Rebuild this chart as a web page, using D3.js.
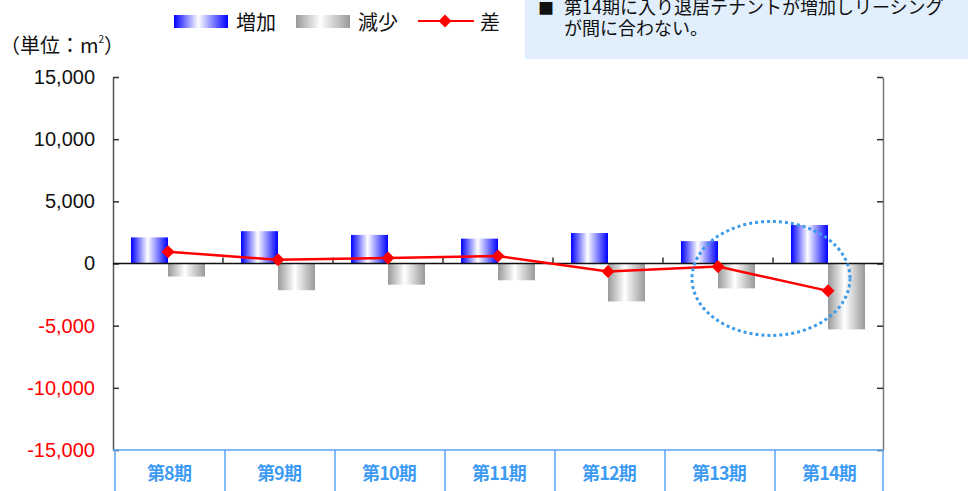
<!DOCTYPE html>
<html>
<head>
<meta charset="utf-8">
<script src="https://cdn.jsdelivr.net/npm/d3@7"></script>
<style>
  html, body { margin: 0; padding: 0; background: #fff; }
  svg { display: block; }
  text { font-family: "Noto Sans CJK JP", "Noto Sans", sans-serif; }
</style>
</head>
<body>
<svg id="chart" width="968" height="491"></svg>
<script>
// Floor-area movement per period (m²)
const categories = ["第8期", "第9期", "第10期", "第11期", "第12期", "第13期", "第14期"];
const increase   = [2100, 2600, 2300, 2000, 2450, 1800, 3100];
const decrease   = [-1050, -2150, -1700, -1350, -3050, -2000, -5300];
const difference = [950, 300, 450, 600, -650, -250, -2200];
const yTicks     = [15000, 10000, 5000, 0, -5000, -10000, -15000];
const noteLines  = ["第14期に入り退居テナントが増加しリーシング", "が間に合わない。"];

const svg = d3.select("#chart");
const plotLeft = 113, plotRight = 883, plotTop = 77, plotBottom = 450;

const x = d3.scaleBand().domain(categories).range([plotLeft, plotRight]);
const xSub = d3.scaleBand().domain(["inc", "dec"])
  .range([x.bandwidth() / 2 - 37, x.bandwidth() / 2 + 37]);
const y = d3.scaleLinear().domain([-15000, 15000]).range([plotBottom, plotTop]);

// Bar gradients
const defs = svg.append("defs");
function hGrad(id, edge) {
  const g = defs.append("linearGradient").attr("id", id)
    .attr("x1", "0%").attr("x2", "100%").attr("y1", "0%").attr("y2", "0%");
  g.append("stop").attr("offset", "0%").attr("stop-color", edge);
  g.append("stop").attr("offset", "45%").attr("stop-color", "#ffffff");
  g.append("stop").attr("offset", "100%").attr("stop-color", edge);
}
hGrad("gradInc", "#0000ff");
hGrad("gradDec", "#999999");

// Note box
svg.append("rect").attr("x", 525).attr("y", 0).attr("width", 443).attr("height", 59)
  .attr("fill", "#e1effd");
svg.append("text").attr("x", 538).attr("y", 14).attr("font-size", 16).attr("fill", "#111").text("■");
svg.selectAll("text.note").data(noteLines).join("text").attr("class", "note")
  .attr("x", 564).attr("y", (d, i) => 14 + i * 21)
  .attr("font-size", 18).attr("fill", "#111").text(d => d);

// Unit label
const unit = svg.append("text").attr("x", 0).attr("y", 53).attr("font-size", 20).attr("fill", "#111");
unit.append("tspan").text("（単位：m");
unit.append("tspan").attr("font-size", 10).attr("dy", -10).text("2");
unit.append("tspan").attr("dy", 10).text("）");

// Legend
const lg = svg.append("g").attr("font-size", 20).attr("fill", "#111");
lg.append("rect").attr("x", 174).attr("y", 15).attr("width", 54).attr("height", 13).attr("fill", "url(#gradInc)");
lg.append("text").attr("x", 236).attr("y", 30).text("増加");
lg.append("rect").attr("x", 296).attr("y", 15).attr("width", 54).attr("height", 13).attr("fill", "url(#gradDec)");
lg.append("text").attr("x", 358).attr("y", 30).text("減少");
lg.append("line").attr("x1", 418).attr("x2", 474).attr("y1", 21).attr("y2", 21)
  .attr("stroke", "#ff0000").attr("stroke-width", 2);
lg.append("path").attr("d", d3.symbol(d3.symbolSquare, 85)())
  .attr("transform", "translate(445,21) rotate(45)").attr("fill", "#ff0000");
lg.append("text").attr("x", 480).attr("y", 30).text("差");

// Y axes (ticks point inward)
const fmt = d => (d < 0 ? "-" : "") + d3.format(",")(Math.abs(d));
const yAxis = svg.append("g").attr("transform", `translate(${plotLeft},0)`)
  .call(d3.axisLeft(y).tickValues(yTicks).tickSize(-6).tickSizeOuter(0).tickPadding(18).tickFormat(fmt));
yAxis.select(".domain").attr("stroke", "#555").attr("stroke-width", 1.5);
yAxis.selectAll(".tick line").attr("stroke", "#333").attr("stroke-width", 1.5);
yAxis.selectAll(".tick text")
  .style("font-family", "'Liberation Sans', Arial, sans-serif").style("font-size", "20px")
  .attr("fill", d => d < 0 ? "#ff0000" : "#111");

const yAxisR = svg.append("g").attr("transform", `translate(${plotRight},0)`)
  .call(d3.axisRight(y).tickValues(yTicks).tickSize(-6).tickSizeOuter(0).tickFormat(""));
yAxisR.select(".domain").attr("stroke", "#777").attr("stroke-width", 1.5);
yAxisR.selectAll(".tick line").attr("stroke", "#333").attr("stroke-width", 1.5);

// Bars
const bars = svg.append("g");
bars.selectAll("rect.inc").data(categories).join("rect").attr("class", "inc")
  .attr("x", d => x(d) + xSub("inc")).attr("width", xSub.bandwidth())
  .attr("y", (d, i) => y(increase[i])).attr("height", (d, i) => y(0) - y(increase[i]))
  .attr("fill", "url(#gradInc)");
bars.selectAll("rect.dec").data(categories).join("rect").attr("class", "dec")
  .attr("x", d => x(d) + xSub("dec")).attr("width", xSub.bandwidth())
  .attr("y", y(0)).attr("height", (d, i) => y(decrease[i]) - y(0))
  .attr("fill", "url(#gradDec)");

// Zero line with category ticks
svg.append("line").attr("x1", plotLeft).attr("x2", plotRight).attr("y1", y(0)).attr("y2", y(0))
  .attr("stroke", "#111").attr("stroke-width", 1.5);
svg.selectAll("line.ctick").data(categories.slice(1)).join("line").attr("class", "ctick")
  .attr("x1", d => x(d)).attr("x2", d => x(d)).attr("y1", y(0)).attr("y2", y(0) - 6)
  .attr("stroke", "#333").attr("stroke-width", 1.5);

// Difference line
const cx = (d, i) => x(categories[i]) + x.bandwidth() / 2;
svg.append("path").datum(difference)
  .attr("d", d3.line().x((d, i) => cx(d, i)).y(d => y(d)))
  .attr("fill", "none").attr("stroke", "#ff0000").attr("stroke-width", 2.5);
svg.selectAll("path.mk").data(difference).join("path").attr("class", "mk")
  .attr("d", d3.symbol(d3.symbolSquare, 85)())
  .attr("transform", (d, i) => `translate(${cx(d, i)},${y(d)}) rotate(45)`)
  .attr("fill", "#ff0000");

// Highlight around the latest two periods
svg.append("ellipse")
  .attr("cx", x("第14期") - 2).attr("cy", y(-1200))
  .attr("rx", 79).attr("ry", 57)
  .attr("fill", "none").attr("stroke", "#3d9be9").attr("stroke-width", 3)
  .attr("stroke-dasharray", "3 3");

// Category table under the plot
const tbl = svg.append("g");
tbl.append("line").attr("x1", plotLeft).attr("x2", plotRight).attr("y1", plotBottom).attr("y2", plotBottom)
  .attr("stroke", "#5aa5f5").attr("stroke-width", 1.5);
tbl.selectAll("line.cv").data(categories.concat([null])).join("line").attr("class", "cv")
  .attr("x1", (d, i) => plotLeft + 2 + i * x.step() - (i === categories.length ? 2 : 0))
  .attr("x2", (d, i) => plotLeft + 2 + i * x.step() - (i === categories.length ? 2 : 0))
  .attr("y1", plotBottom).attr("y2", 491)
  .attr("stroke", "#5aa5f5").attr("stroke-width", 1.5);
tbl.selectAll("text").data(categories).join("text")
  .attr("x", d => x(d) + x.bandwidth() / 2 + 1).attr("y", 480)
  .attr("text-anchor", "middle").attr("font-size", 18).attr("font-weight", "bold")
  .attr("letter-spacing", -0.8)
  .attr("fill", "#3d9bf3")
  .style("font-family", "'Liberation Sans Narrow', 'Noto Sans CJK JP', sans-serif")
  .text(d => d);
</script>
</body>
</html>
